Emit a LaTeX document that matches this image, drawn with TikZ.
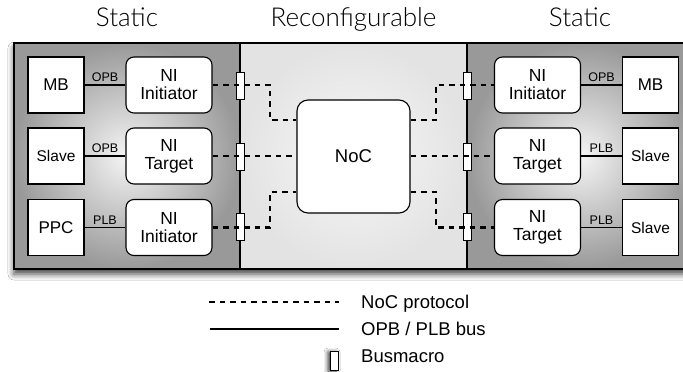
\documentclass[tikz,border=0pt]{standalone}
\usepackage{fontspec}
\setmainfont{Liberation Sans}
\newfontfamily\titlefont{Lato Light}
\usetikzlibrary{shadows.blur,calc}
\begin{document}
\begin{tikzpicture}[x=1pt,y=-1pt,
  sbox/.style={draw=black, fill=white, line width=1.1pt, minimum width=56pt, minimum height=56pt, inner sep=0pt, font=\fontsize{17}{18}\selectfont},
  smalltxt/.style={font=\fontsize{15.5}{16}\selectfont},
  nibox/.style={draw=black, fill=white, line width=1.1pt, rounded corners=8pt, minimum width=86pt, minimum height=56pt, inner sep=0pt, align=center, font=\fontsize{17.5}{18}\selectfont},
  busline/.style={line width=1.4pt},
  bmacro/.style={draw=black, fill=white, line width=1pt, minimum width=8pt, minimum height=27pt, inner sep=0pt},
  nocline/.style={line width=2.8pt, dash pattern=on 5.5pt off 5pt},
  buslbl/.style={font=\fontsize{12.5}{12.5}\selectfont, inner sep=2.5pt},
  ttl/.style={font=\titlefont\fontsize{26}{26}\selectfont, anchor=base},
  lgd/.style={font=\fontsize{18.5}{19}\selectfont, anchor=base west, inner sep=0pt},
]
\useasboundingbox (0,0) rectangle (683,372);
\fill[white] (0,0) rectangle (683,372);

% titles
\node[ttl] (t1) at (127,27) {Static};
\node[ttl] (t2) at (353.5,27) {Reconfigurable};
\node[ttl] (t3) at (580,27) {Static};

% frame with shadow and shaded panels
\fill[white, blur shadow={shadow xshift=0pt, shadow yshift=-5pt, shadow blur radius=6pt, shadow opacity=75}] (14,43) rectangle (693,269);
\shade[inner color=black!4, outer color=black!40] (14,43) rectangle (240,269);
\shade[inner color=black!3, outer color=black!11] (240,43) rectangle (467,269);
\shade[inner color=black!4, outer color=black!40] (467,43) rectangle (693,269);
\draw[line width=1.4pt] (14,43) rectangle (693,269);
\draw[line width=1.2pt] (240,43) -- (240,269);
\draw[line width=1.2pt] (467,43) -- (467,269);

% left static
\node[sbox] (mbL) at (56,85) {MB};
\node[sbox, smalltxt] (slL) at (56,156) {Slave};
\node[sbox] (ppc) at (56,227.5) {PPC};
\node[nibox] (niL1) at (169,85) {NI\\Initiator};
\node[nibox] (niL2) at (169,156) {NI\\Target};
\node[nibox] (niL3) at (169,227.5) {NI\\Initiator};
\draw[busline] (mbL) -- node[buslbl, above] {OPB} (niL1);
\draw[busline] (slL) -- node[buslbl, above] {OPB} (niL2);
\draw[busline] (ppc) -- node[buslbl, above] {PLB} (niL3);

% right static
\node[nibox] (niR1) at (537.5,85) {NI\\Initiator};
\node[nibox] (niR2) at (537.5,156) {NI\\Target};
\node[nibox] (niR3) at (537.5,227.5) {NI\\Target};
\node[sbox] (mbR) at (650.5,85) {MB};
\node[sbox, smalltxt] (slR1) at (650.5,156) {Slave};
\node[sbox, smalltxt] (slR2) at (650.5,227.5) {Slave};
\draw[busline] (niR1) -- node[buslbl, above] {OPB} (mbR);
\draw[busline] (niR2) -- node[buslbl, above] {PLB} (slR1);
\draw[busline] (niR3) -- node[buslbl, above] {PLB} (slR2);

% NoC
\node[draw=black, fill=white, line width=1.1pt, rounded corners=11pt, minimum width=113pt, minimum height=113pt, inner sep=0pt, font=\fontsize{18.5}{19}\selectfont] (noc) at (353.5,156.5) {NoC};

% busmacros
\node[bmacro] (bmL1) at (240.5,86) {};
\node[bmacro] (bmL2) at (240.5,156.5) {};
\node[bmacro] (bmL3) at (240.5,227) {};
\node[bmacro] (bmR1) at (467,86) {};
\node[bmacro] (bmR2) at (467,156.5) {};
\node[bmacro] (bmR3) at (467,227) {};

% NoC protocol connections
\coordinate (kL) at (270,0);
\coordinate (kR) at (436,0);
\coordinate (nw1) at ([yshift=36.5pt]noc.west);
\coordinate (nw3) at ([yshift=-35.5pt]noc.west);
\coordinate (ne1) at ([yshift=36.5pt]noc.east);
\coordinate (ne3) at ([yshift=-35.5pt]noc.east);
\draw[nocline] (niL1.east) -- (kL |- niL1.east) -- (kL |- nw1) -- (nw1);
\draw[nocline] (niL2.east) -- (noc.west |- niL2.east);
\draw[nocline] (niL3.east) -- (kL |- niL3.east) -- (kL |- nw3) -- (nw3);
\draw[nocline] (ne1) -- (kR |- ne1) -- (kR |- niR1.west) -- (niR1.west);
\draw[nocline] (noc.east |- niR2.west) -- (niR2.west);
\draw[nocline] (ne3) -- (kR |- ne3) -- (kR |- niR3.west) -- (niR3.west);

% legend
\coordinate (la1) at (209,302);
\coordinate (lb1) at (339,302);
\coordinate (la2) at (210,329);
\coordinate (lb2) at (339,329);
\draw[nocline] (la1) -- (lb1);
\draw[busline] (la2) -- (lb2);
\node[bmacro, minimum height=19pt, blur shadow={shadow xshift=-2pt, shadow yshift=-1pt, shadow blur radius=4pt, shadow opacity=80}] (lbm) at (334,360.5) {};
\node[lgd] (lt1) at (361,308) {NoC protocol};
\node[lgd] (lt2) at (361,335.5) {OPB / PLB bus};
\node[lgd] (lt3) at (361,362) {Busmacro};
\end{tikzpicture}
\end{document}
